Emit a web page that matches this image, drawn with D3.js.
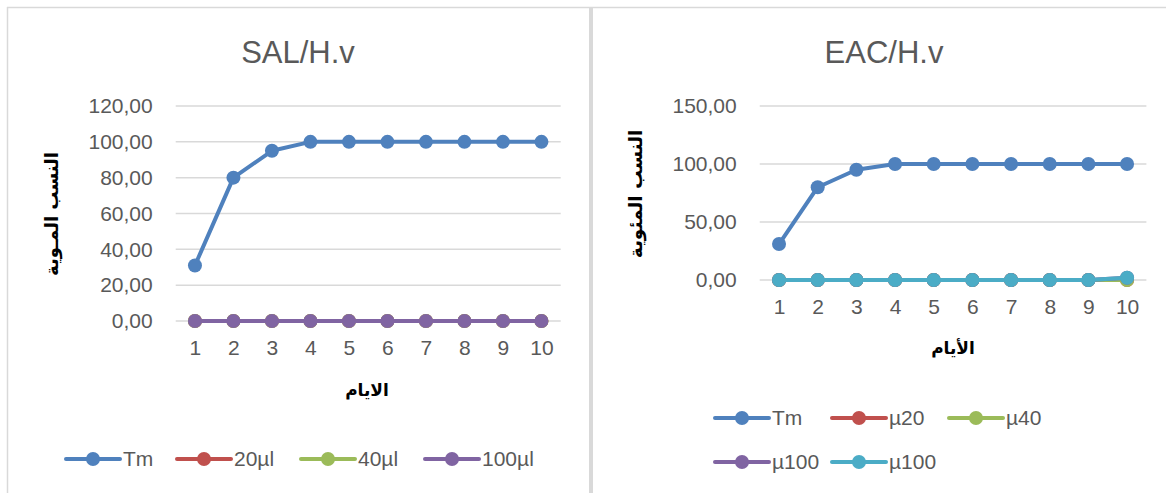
<!DOCTYPE html>
<html>
<head>
<meta charset="utf-8">
<script src="https://cdn.jsdelivr.net/npm/d3@7"></script>
<style>
  html, body { margin: 0; padding: 0; background: #fff; }
  svg { display: block; }
</style>
</head>
<body>
<svg id="chart" width="1168" height="493"></svg>
<script>
// Days on the x axis
const days = ["1", "2", "3", "4", "5", "6", "7", "8", "9", "10"];

// SAL/H.v series
const salTm    = [31, 80, 95, 100, 100, 100, 100, 100, 100, 100];
const sal20    = [0, 0, 0, 0, 0, 0, 0, 0, 0, 0];
const sal40    = [0, 0, 0, 0, 0, 0, 0, 0, 0, 0];
const sal100   = [0, 0, 0, 0, 0, 0, 0, 0, 0, 0];
const salNames = ["Tm", "20µl", "40µl", "100µl"];
const salTicks = [0, 20, 40, 60, 80, 100, 120];

// EAC/H.v series
const eacTm    = [31, 80, 95, 100, 100, 100, 100, 100, 100, 100];
const eac20    = [0, 0, 0, 0, 0, 0, 0, 0, 0, 0];
const eac40    = [0, 0, 0, 0, 0, 0, 0, 0, 0, 0];
const eac100a  = [0, 0, 0, 0, 0, 0, 0, 0, 0, 2];
const eac100b  = [0, 0, 0, 0, 0, 0, 0, 0, 0, 2];
const eacNames = ["Tm", "µ20", "µ40", "µ100", "µ100"];
const eacTicks = [0, 50, 100, 150];

const colors = ["#4F81BD", "#C0504D", "#9BBB59", "#8064A2", "#4BACC6"];

const fmt = d3.formatLocale({ decimal: ",", thousands: ".", grouping: [3], currency: ["", ""] }).format(".2f");

const svg = d3.select("#chart");
const textColor = "#595959";
const gridColor = "#D9D9D9";
const latin = "'Liberation Sans', Arial, sans-serif";
const arabic = "'DejaVu Sans', sans-serif";

// Panel frames
svg.append("line").attr("x1", 7).attr("x2", 1166).attr("y1", 7.5).attr("y2", 7.5)
  .attr("stroke", gridColor).attr("stroke-width", 1.5);
svg.append("line").attr("x1", 7.5).attr("x2", 7.5).attr("y1", 7).attr("y2", 493)
  .attr("stroke", gridColor).attr("stroke-width", 1.5);
svg.append("rect").attr("x", 589).attr("y", 7).attr("width", 4).attr("height", 486)
  .attr("fill", gridColor);

function drawPanel(p) {
  const g = svg.append("g");
  const x = d3.scalePoint().domain(days).range([p.left, p.right]).padding(0.5);
  const y = d3.scaleLinear().domain([0, p.max]).range([p.bottom, p.top]);

  // Title
  g.append("text").attr("x", p.titleX).attr("y", 63).attr("text-anchor", "middle")
    .attr("font-family", latin).attr("font-size", 31).attr("fill", textColor)
    .text(p.title);

  // Gridlines
  g.append("g").selectAll("line").data(p.ticks).join("line")
    .attr("x1", p.left).attr("x2", p.right)
    .attr("y1", d => y(d)).attr("y2", d => y(d))
    .attr("stroke", gridColor).attr("stroke-width", 1.5);

  // Y axis labels
  const ya = g.append("g").attr("transform", `translate(${p.left},0)`)
    .call(d3.axisLeft(y).tickValues(p.ticks).tickFormat(fmt).tickSize(0).tickPadding(23));
  ya.select(".domain").remove();
  ya.selectAll("text").attr("font-family", latin).attr("font-size", 21).attr("fill", textColor);

  // X axis labels
  const xa = g.append("g").attr("transform", `translate(0,${p.bottom})`)
    .call(d3.axisBottom(x).tickSize(0).tickPadding(19));
  xa.select(".domain").remove();
  xa.selectAll("text").attr("font-family", latin).attr("font-size", 21).attr("fill", textColor);

  // Axis titles
  g.append("text").attr("x", p.xTitleX).attr("y", p.xTitleY).attr("text-anchor", "middle")
    .attr("font-family", arabic).attr("font-weight", "bold").attr("font-size", 17)
    .attr("fill", "#000").attr("direction", "rtl").text(p.xTitle);
  g.append("text").attr("transform", `translate(${p.yTitleX},${p.yTitleY}) rotate(-90)`)
    .attr("text-anchor", "middle")
    .attr("font-family", arabic).attr("font-weight", "bold").attr("font-size", p.yTitleSize)
    .attr("fill", "#000").attr("direction", "rtl").text(p.yTitle);

  // Series lines and markers
  const line = d3.line().x((d, i) => x(days[i])).y(d => y(d));
  p.series.forEach((vals, si) => {
    const sg = g.append("g");
    sg.append("path").datum(vals).attr("d", line).attr("fill", "none")
      .attr("stroke", colors[si]).attr("stroke-width", 4).attr("stroke-linejoin", "round");
    sg.selectAll("circle").data(vals).join("circle")
      .attr("cx", (d, i) => x(days[i])).attr("cy", d => y(d)).attr("r", 7)
      .attr("fill", colors[si]);
  });

  // Legend
  p.names.forEach((name, i) => {
    const pos = p.legend[i];
    const lg = g.append("g").attr("transform", `translate(${pos[0]},${pos[1]})`);
    lg.append("line").attr("x1", 0).attr("x2", 54).attr("y1", 0).attr("y2", 0)
      .attr("stroke", colors[i]).attr("stroke-width", 4).attr("stroke-linecap", "round");
    lg.append("circle").attr("cx", 27).attr("cy", 0).attr("r", 7).attr("fill", colors[i]);
    lg.append("text").attr("x", 57).attr("y", 0).attr("dy", "0.35em")
      .attr("font-family", latin).attr("font-size", 21).attr("fill", textColor).text(name);
  });
}

drawPanel({
  title: "SAL/H.v", titleX: 298,
  left: 175.7, right: 560.7, top: 106, bottom: 321, max: 120, ticks: salTicks,
  xTitle: "الايام", xTitleX: 367, xTitleY: 396,
  yTitle: "النسب المـوية", yTitleX: 58, yTitleY: 214, yTitleSize: 18,
  series: [salTm, sal20, sal40, sal100], names: salNames,
  legend: [[66, 459], [177, 459], [301, 459], [425, 459]]
});

drawPanel({
  title: "EAC/H.v", titleX: 884,
  left: 759.7, right: 1146.4, top: 106, bottom: 280, max: 150, ticks: eacTicks,
  xTitle: "الأيام", xTitleX: 953, xTitleY: 354,
  yTitle: "النسب  المئوية", yTitleX: 642, yTitleY: 194, yTitleSize: 18.5,
  series: [eacTm, eac20, eac40, eac100a, eac100b], names: eacNames,
  legend: [[715, 418], [832, 418], [949, 418], [715, 462], [832, 462]]
});
</script>
</body>
</html>
